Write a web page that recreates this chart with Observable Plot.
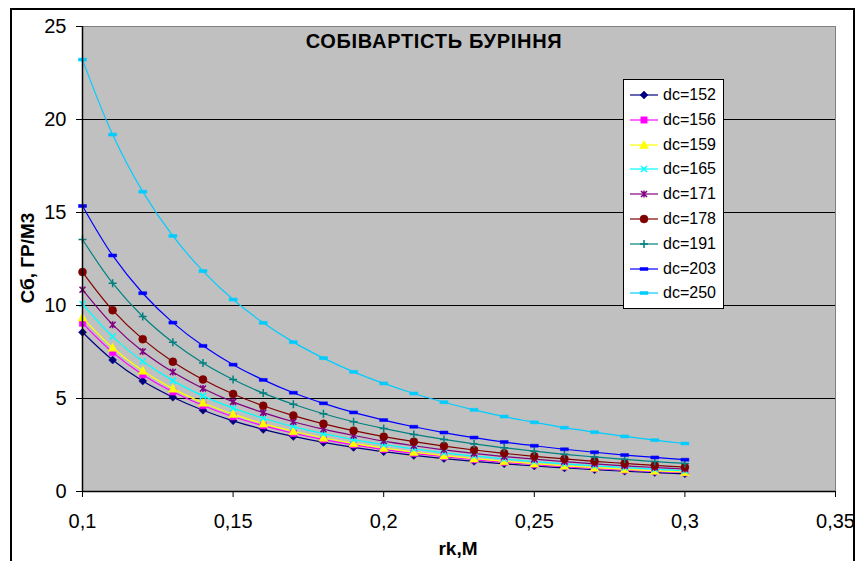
<!DOCTYPE html>
<html><head><meta charset="utf-8">
<script src="https://cdn.jsdelivr.net/npm/d3@7"></script>
<script src="https://cdn.jsdelivr.net/npm/@observablehq/plot@0.6"></script>
<style>
body{margin:0;background:#fff;}
#wrap{position:relative;width:857px;height:561px;overflow:hidden;font-family:"Liberation Sans",Arial,sans-serif;color:#000;}
#border{position:absolute;left:10px;top:8px;width:841px;height:600px;border:2px solid #000;pointer-events:none;}
.lbl{position:absolute;white-space:nowrap;font-weight:bold;line-height:1;}
#title{left:434px;top:31px;font-size:20px;letter-spacing:0.7px;transform:translateX(-50%);}
#ylab{left:27px;top:258px;font-size:19px;transform:translate(-50%,-50%) rotate(-90deg);}
#xlab{left:458px;top:539px;font-size:19px;transform:translateX(-50%);}
#legend{position:absolute;left:623px;top:79px;width:99px;background:#fff;border:1px solid #000;padding:2.6px 0;}
.row{height:24.8px;display:flex;align-items:center;font-size:16px;}
.row svg{margin-left:6px;margin-right:5px;overflow:visible;}
</style></head>
<body>
<div id="wrap"></div>
<script>
// ---- data ----
const rk = [0.10,0.11,0.12,0.13,0.14,0.15,0.16,0.17,0.18,0.19,0.20,0.21,0.22,0.23,0.24,0.25,0.26,0.27,0.28,0.29,0.30];
const seriesNames = ["dc=152","dc=156","dc=159","dc=165","dc=171","dc=178","dc=191","dc=203","dc=250"];
const dc152 = [8.56,7.07,5.94,5.07,4.37,3.80,3.34,2.96,2.64,2.37,2.14,1.94,1.77,1.62,1.49,1.37,1.27,1.17,1.09,1.02,0.95];
const dc156 = [9.05,7.48,6.28,5.36,4.62,4.02,3.54,3.13,2.79,2.51,2.26,2.05,1.87,1.71,1.57,1.45,1.34,1.24,1.15,1.08,1.01];
const dc159 = [9.35,7.73,6.49,5.53,4.77,4.16,3.65,3.24,2.89,2.59,2.34,2.12,1.93,1.77,1.62,1.50,1.38,1.28,1.19,1.11,1.04];
const dc165 = [10.08,8.33,7.00,5.96,5.14,4.48,3.94,3.49,3.11,2.79,2.52,2.29,2.08,1.91,1.75,1.61,1.49,1.38,1.29,1.20,1.12];
const dc171 = [10.85,8.97,7.53,6.42,5.54,4.82,4.24,3.75,3.35,3.01,2.71,2.46,2.24,2.05,1.88,1.74,1.61,1.49,1.38,1.29,1.21];
const dc178 = [11.80,9.75,8.19,6.98,6.02,5.24,4.61,4.08,3.64,3.27,2.95,2.68,2.44,2.23,2.05,1.89,1.75,1.62,1.51,1.40,1.31];
const dc191 = [13.55,11.20,9.41,8.02,6.91,6.02,5.29,4.69,4.18,3.75,3.39,3.07,2.80,2.56,2.35,2.17,2.00,1.86,1.73,1.61,1.51];
const dc203 = [15.35,12.69,10.66,9.08,7.83,6.82,6.00,5.31,4.74,4.25,3.84,3.48,3.17,2.90,2.66,2.46,2.27,2.11,1.96,1.83,1.71];
const dc250 = [23.22,19.19,16.12,13.74,11.85,10.32,9.07,8.03,7.17,6.43,5.81,5.27,4.80,4.39,4.03,3.72,3.43,3.19,2.96,2.76,2.58];
const seriesValues = [dc152,dc156,dc159,dc165,dc171,dc178,dc191,dc203,dc250];
const yTicks = [0,5,10,15,20,25];
const xTicks = [0.1,0.15,0.2,0.25,0.3,0.35];
const titleText = "СОБІВАРТІСТЬ БУРІННЯ";
const yLabel = "Сб, ГР/М3";
const xLabel = "rk,M";

// ---- styles ----
const sym = {
  diamond:{draw(c){c.moveTo(0,-4);c.lineTo(4,0);c.lineTo(0,4);c.lineTo(-4,0);c.closePath();}},
  square:{draw(c){c.rect(-3.2,-3.2,6.4,6.4);}},
  triangle:{draw(c){c.moveTo(0,-4.5);c.lineTo(4.5,3.5);c.lineTo(-4.5,3.5);c.closePath();}},
  times:{draw(c){c.moveTo(-3,-3);c.lineTo(3,3);c.moveTo(3,-3);c.lineTo(-3,3);}},
  asterisk:{draw(c){c.moveTo(-3,-3);c.lineTo(3,3);c.moveTo(3,-3);c.lineTo(-3,3);c.moveTo(0,-3.5);c.lineTo(0,3.5);}},
  circle:{draw(c){c.moveTo(4,0);c.arc(0,0,4,0,2*Math.PI);c.closePath();}},
  plus:{draw(c){c.moveTo(-4,0);c.lineTo(4,0);c.moveTo(0,-4);c.lineTo(0,4);}},
  dash:{draw(c){c.rect(-4,-1.5,8,3);}}
};
const styles = [
  {color:"#000080", symbol:sym.diamond, filled:true},
  {color:"#FF00FF", symbol:sym.square, filled:true},
  {color:"#FFFF00", symbol:sym.triangle, filled:true},
  {color:"#00FFFF", symbol:sym.times, filled:false},
  {color:"#800080", symbol:sym.asterisk, filled:false},
  {color:"#800000", symbol:sym.circle, filled:true},
  {color:"#008080", symbol:sym.plus, filled:false},
  {color:"#0000FF", symbol:sym.dash, filled:true},
  {color:"#00CCFF", symbol:sym.dash, filled:true}
];

const tables = seriesValues.map((vals, i) => rk.map((x, j) => ({x, y: vals[j], name: seriesNames[i]})));

const lineMarks = tables.map((t, i) => Plot.line(t, {x:"x", y:"y", stroke: styles[i].color, strokeWidth: 1.2, curve: "catmull-rom"}));
const dotMarks = tables.map((t, i) => Plot.dot(t, {
  x:"x", y:"y", r: 3, symbol: styles[i].symbol,
  fill: styles[i].filled ? styles[i].color : "none",
  stroke: styles[i].color, strokeWidth: styles[i].filled ? 0.5 : 1.5
}));

const chart = Plot.plot({
  width: 857, height: 561,
  marginLeft: 82, marginRight: 22, marginTop: 26, marginBottom: 70,
  style: {fontFamily: '"Liberation Sans", Arial, sans-serif', fontSize: "20px", background: "transparent", color: "#000"},
  x: {domain: [0.1, 0.35]},
  y: {domain: [0, 25]},
  marks: [
    Plot.frame({fill: "#C0C0C0", stroke: "#808080"}),
    Plot.ruleY(yTicks.filter(d => d > 0 && d < 25), {stroke: "#000", strokeWidth: 1}),
    ...lineMarks,
    ...dotMarks,
    Plot.ruleX([xTicks[0]], {stroke: "#000", strokeWidth: 1.5}),
    Plot.ruleY([yTicks[0]], {stroke: "#000", strokeWidth: 1.5}),
    Plot.axisY({ticks: yTicks, tickSize: 6, tickPadding: 10, label: null, tickFormat: d => String(d)}),
    Plot.axisX({ticks: xTicks, tickSize: 6, tickPadding: 16, label: null, tickFormat: d => String(d).replace(".", ",")})
  ]
});

const wrap = document.getElementById("wrap");
wrap.appendChild(chart);

function addLabel(id, text) {
  const d = document.createElement("div");
  d.className = "lbl"; d.id = id; d.textContent = text;
  wrap.appendChild(d);
}
addLabel("title", titleText);
addLabel("ylab", yLabel);
addLabel("xlab", xLabel);

// legend
const legend = document.createElement("div");
legend.id = "legend";
seriesNames.forEach((name, i) => {
  const row = document.createElement("div");
  row.className = "row";
  const s = styles[i];
  const p = d3.path(); s.symbol.draw(p);
  const svg = d3.create("svg").attr("width", 28).attr("height", 10);
  svg.append("line").attr("x1", 0).attr("x2", 28).attr("y1", 5).attr("y2", 5).attr("stroke", s.color).attr("stroke-width", 1.2);
  svg.append("path").attr("transform", "translate(14,5)").attr("d", p.toString())
    .attr("fill", s.filled ? s.color : "none").attr("stroke", s.color).attr("stroke-width", s.filled ? 0.5 : 1.5);
  row.appendChild(svg.node());
  const t = document.createElement("span"); t.textContent = name;
  row.appendChild(t);
  legend.appendChild(row);
});
wrap.appendChild(legend);

const border = document.createElement("div");
border.id = "border";
wrap.appendChild(border);
</script>
</body></html>
